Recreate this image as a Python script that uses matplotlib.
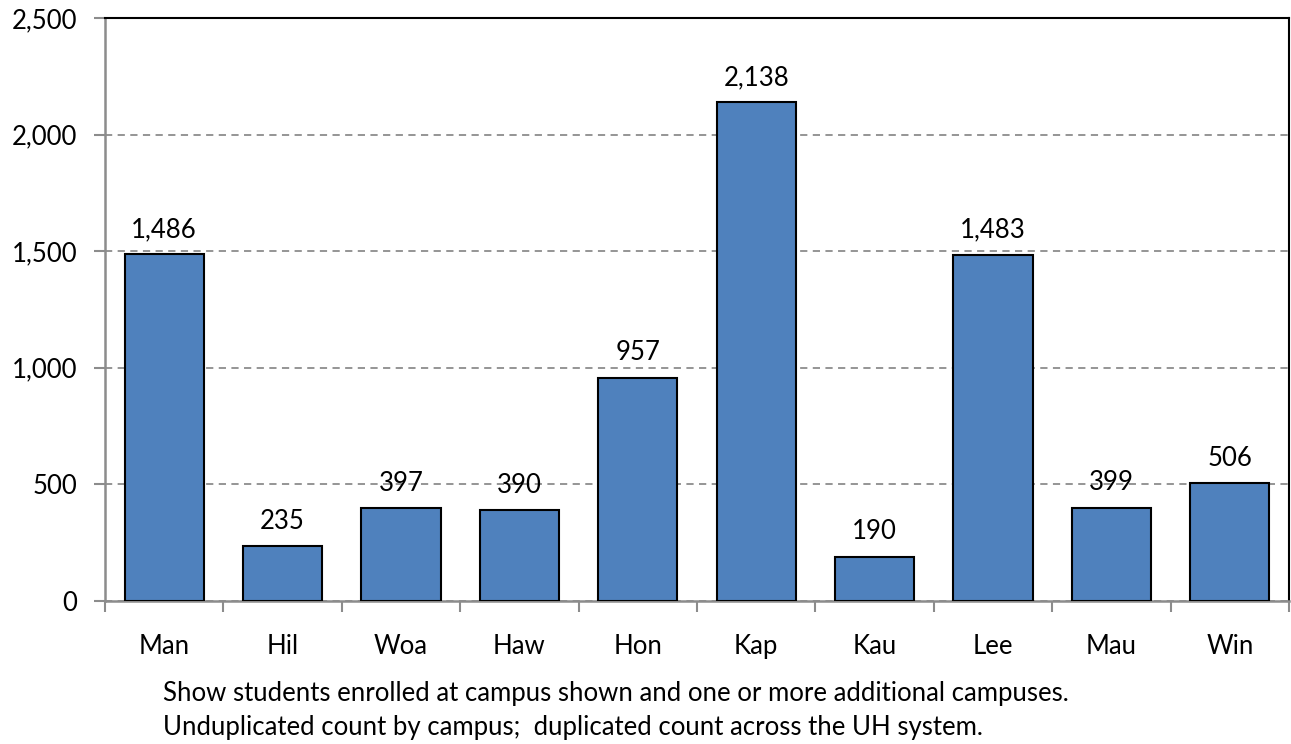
import matplotlib.pyplot as plt
import numpy as np

plt.rcParams['font.family'] = ['Lato', 'DejaVu Sans']

campuses = ['Man', 'Hil', 'Woa', 'Haw', 'Hon', 'Kap', 'Kau', 'Lee', 'Mau', 'Win']
students = [1486, 235, 397, 390, 957, 2138, 190, 1483, 399, 506]
y_ticks = [0, 500, 1000, 1500, 2000, 2500]
footnote = ["Show students enrolled at campus shown and one or more additional campuses.",
            "Unduplicated count by campus;  duplicated count across the UH system."]

fig = plt.figure(figsize=(12.91, 7.44), dpi=100)
ax = fig.add_axes([105 / 1291, 1 - 601 / 744, 1184 / 1291, 583 / 744])

x = np.arange(len(campuses))
ax.bar(x, students, width=0.67, color='#4F81BD', edgecolor='black', linewidth=1.5, zorder=3)
for xi, v in zip(x, students):
    ax.annotate(f"{v:,}", (xi, v), xytext=(0, 9), textcoords='offset points',
                ha='center', va='bottom', fontsize=18.5, zorder=4)

ax.set_xlim(-0.5, len(campuses) - 0.5)
ax.set_ylim(0, 2500)
ax.set_yticks(y_ticks)
ax.set_yticklabels([f"{t:,}" for t in y_ticks], fontsize=18.5)
ax.yaxis.grid(True, linestyle=(0, (4, 3)), color='#8c8c8c', linewidth=1.3, zorder=0)

ax.set_xticks(x)
ax.set_xticklabels(campuses, fontsize=18.5)
ax.tick_params(axis='x', length=0, pad=24)
ax.set_xticks(np.arange(-0.5, len(campuses), 1), minor=True)
ax.tick_params(axis='x', which='minor', length=8, width=1.5, color='#8c8c8c', direction='out')
ax.tick_params(axis='y', length=8, width=1.5, color='#8c8c8c', pad=12)

for side in ['left', 'bottom']:
    ax.spines[side].set_color('#8c8c8c')
    ax.spines[side].set_linewidth(1.8)
for side in ['top', 'right']:
    ax.spines[side].set_color('black')
    ax.spines[side].set_linewidth(1.5)

fig.text(163 / 1291, 1 - 693 / 744, footnote[0], fontsize=18.5, va='center', ha='left')
fig.text(163 / 1291, 1 - 728 / 744, footnote[1], fontsize=18.5, va='center', ha='left')

fig.savefig('out.png', dpi=100)
